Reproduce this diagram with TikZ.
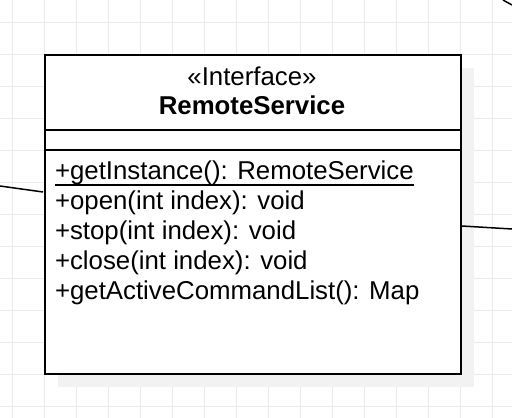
\documentclass[tikz,border=0pt]{standalone}
\usepackage{fontspec}
\setmainfont{Liberation Sans}
\definecolor{gridc}{HTML}{EBEBEB}
\definecolor{shadowc}{HTML}{F2F2F2}
\begin{document}
\begin{tikzpicture}[x=1pt,y=-1pt,
  gridline/.style={draw=gridc,line width=1pt},
  boxline/.style={draw=black,line width=2pt},
  conn/.style={draw=black,line width=1.5pt},
  txt/.style={inner sep=0pt,outer sep=0pt,font=\fontsize{25.8}{30}\selectfont},
  member/.style={txt,anchor=base west}]
\useasboundingbox (0,0) rectangle (512,418);
% grid
\foreach \i in {0,...,15} \draw[gridline] (12.5+32*\i,0) -- (12.5+32*\i,418);
\foreach \j in {0,...,12} \draw[gridline] (0,22+32*\j) -- (512,22+32*\j);
% shadow
\fill[shadowc] (58,68) rectangle (474,387);
% class box
\node[boxline,fill=white,minimum width=416pt,minimum height=319pt,inner sep=0pt,anchor=north west] (cls) at (44,54) {};
\coordinate (d1w) at (44,130); \coordinate (d1e) at (460,130);
\coordinate (d2w) at (44,150); \coordinate (d2e) at (460,150);
\draw[boxline] (d1w) -- (d1e);
\draw[boxline] (d2w) -- (d2e);
% header
\node[txt,anchor=base] (stereo) at (252,85.5) {«Interface»};
\node[txt,anchor=base,font=\fontsize{25.8}{30}\selectfont\bfseries] (name) at (252,114.5) {RemoteService};
% members
\node[member] (m1) at (55,179.5) {+getInstance(): RemoteService};
\draw[line width=1.5pt] ([yshift=-5.5pt]m1.base west) -- ([yshift=-5.5pt]m1.base east);
\node[member] (m2) at (55,209.5) {+open(int index): void};
\node[member] (m3) at (55,239.5) {+stop(int index): void};
\node[member] (m4) at (55,269.5) {+close(int index): void};
\node[member] (m5) at (55,299.5) {+getActiveCommandList(): Map};
% connectors
\coordinate (la) at (0,186); \coordinate (lb) at (43,192);
\coordinate (ra) at (462,226); \coordinate (rb) at (512,229);
\coordinate (ta) at (503,0); \coordinate (tb) at (512,5);
\draw[conn] (la) -- (lb);
\draw[conn] (ra) -- (rb);
\draw[conn] (ta) -- (tb);
\end{tikzpicture}
\end{document}
